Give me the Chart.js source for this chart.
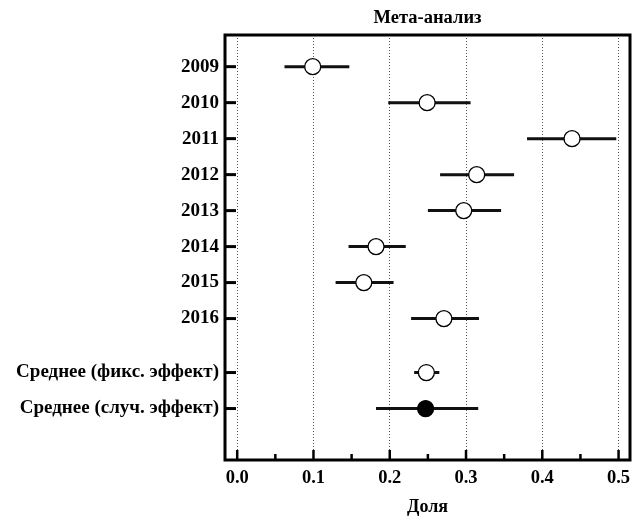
<!DOCTYPE html>
<html><head><meta charset="utf-8">
<script src="https://cdn.jsdelivr.net/npm/chart.js@4.4.1/dist/chart.umd.min.js"></script>
<style>html,body{margin:0;padding:0;background:#fff}#wrap{width:640px;height:518px}</style>
</head><body><div id="wrap"><canvas id="c" width="640" height="518"></canvas></div>
<script>
const rowLabels = ['2009','2010','2011','2012','2013','2014','2015','2016','Среднее (фикс. эффект)','Среднее (случ. эффект)'];
const rowPositions = [1,2,3,4,5,6,7,8,9.5,10.5];
const estimates = [0.099,0.249,0.439,0.314,0.297,0.182,0.166,0.271,0.248,0.247];
const lower = [0.062,0.198,0.380,0.266,0.250,0.146,0.129,0.228,0.232,0.182];
const upper = [0.147,0.306,0.497,0.363,0.346,0.221,0.205,0.317,0.265,0.316];
const pointFill = ['#fff','#fff','#fff','#fff','#fff','#fff','#fff','#fff','#fff','#000'];
const xTicks = [0,0.05,0.1,0.15,0.2,0.25,0.3,0.35,0.4,0.45,0.5];
const titleText = 'Мета-анализ';
const xTitle = 'Доля';

const FONT = "'Liberation Serif', 'Times New Roman', serif";
const isMajor = v => Math.abs(Math.round(v*10) - v*10) < 1e-6;

const ciData = [];
rowPositions.forEach((p,i) => {
  ciData.push({x: lower[i], y: p});
  ciData.push({x: upper[i], y: p});
  ciData.push({x: NaN, y: NaN});
});
const ptData = rowPositions.map((p,i) => ({x: estimates[i], y: p}));

const framePlugin = {
  id: 'frame',
  afterDraw(chart) {
    const {ctx, chartArea: a, scales: {x, y}} = chart;
    ctx.save();
    ctx.strokeStyle = '#000';
    ctx.lineCap = 'butt';
    ctx.lineWidth = 2.5;
    xTicks.forEach(v => {
      const px = x.getPixelForValue(v);
      ctx.beginPath();
      ctx.moveTo(px, a.bottom);
      ctx.lineTo(px, a.bottom - (isMajor(v) ? 10 : 6));
      ctx.stroke();
    });
    ctx.lineWidth = 3;
    rowPositions.forEach(v => {
      const py = y.getPixelForValue(v);
      ctx.beginPath();
      ctx.moveTo(a.left, py);
      ctx.lineTo(a.left + 11, py);
      ctx.stroke();
    });
    ctx.lineWidth = 3;
    ctx.strokeRect(a.left, a.top, a.right - a.left, a.bottom - a.top);
    ctx.restore();
  }
};

new Chart(document.getElementById('c'), {
  type: 'scatter',
  data: {
    datasets: [
      {
        data: ciData, showLine: true, spanGaps: false,
        borderColor: '#111', borderWidth: 3, pointRadius: 0, order: 2
      },
      {
        data: ptData, pointRadius: 8, pointHoverRadius: 8,
        pointBackgroundColor: pointFill, pointBorderColor: '#000', pointBorderWidth: 1.3, order: 1
      }
    ]
  },
  options: {
    responsive: false,
    animation: false,
    devicePixelRatio: 1,
    layout: { padding: { left: 0, right: 10, top: 0, bottom: 0 } },
    plugins: {
      legend: { display: false },
      tooltip: { enabled: false },
      title: { display: false }
    },
    scales: {
      x: {
        type: 'linear', min: -0.016, max: 0.515,
        afterBuildTicks: s => { s.ticks = xTicks.map(v => ({ value: v })); },
        afterFit: s => { s.height = 58; },
        ticks: {
          autoSkip: false, maxRotation: 0, padding: 7, color: '#000',
          font: { family: FONT, size: 18.5, weight: 'bold' },
          callback: v => isMajor(v) ? v.toFixed(1) : ''
        },
        grid: {
          drawTicks: false, lineWidth: 1,
          color: c => (c.tick && isMajor(c.tick.value)) ? '#555' : 'rgba(0,0,0,0)'
        },
        border: { display: false, dash: [1, 2] },
        title: {
          display: true, text: xTitle, color: '#000',
          font: { family: FONT, size: 18, weight: 'bold' },
          padding: { top: 4, bottom: 0 }
        }
      },
      xTop: {
        type: 'linear', position: 'top', min: -0.016, max: 0.515,
        afterFit: s => { s.height = 35; },
        ticks: { display: false },
        grid: { display: false, drawTicks: false },
        border: { display: false },
        title: {
          display: true, text: titleText, color: '#000',
          font: { family: FONT, size: 18.5, weight: 'bold' },
          padding: { top: 7, bottom: 0 }
        }
      },
      y: {
        type: 'linear', reverse: true, min: 0.12, max: 11.93,
        afterBuildTicks: s => { s.ticks = rowPositions.map(v => ({ value: v })); },
        afterFit: s => { s.width = 225; },
        ticks: {
          autoSkip: false, padding: 6, color: '#000',
          font: { family: FONT, size: 19, weight: 'bold' },
          callback: (v, i) => rowLabels[i]
        },
        grid: { display: false, drawTicks: false },
        border: { display: false }
      }
    }
  },
  plugins: [framePlugin]
});
</script>
</body></html>
